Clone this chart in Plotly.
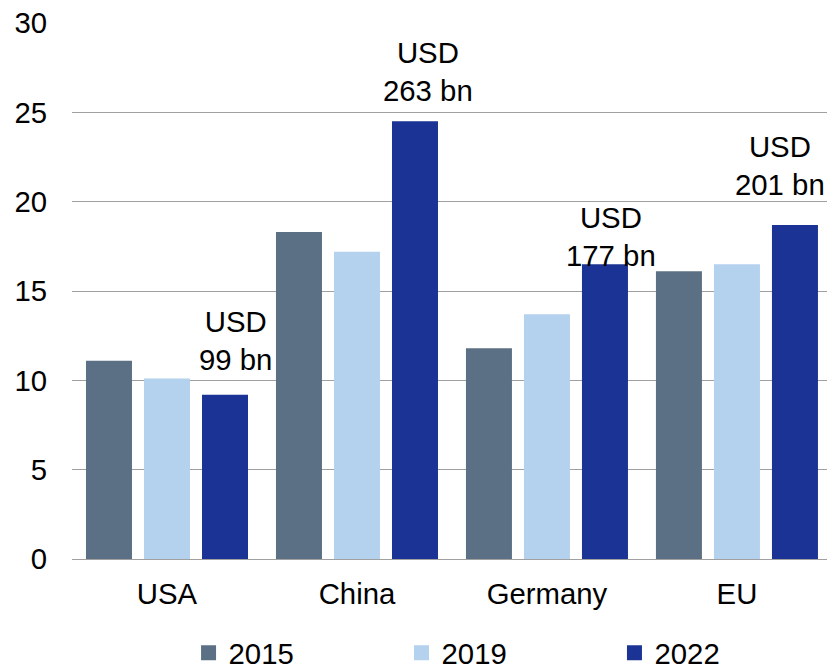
import plotly.graph_objects as go

# Data
categories = ["USA", "China", "Germany", "EU"]
years = ["2015", "2019", "2022"]
values_2015 = [11.1, 18.3, 11.8, 16.1]
values_2019 = [10.1, 17.2, 13.7, 16.5]
values_2022 = [9.2, 24.5, 16.5, 18.7]
usd_labels = ["USD<br>99 bn", "USD<br>263 bn", "USD<br>177 bn", "USD<br>201 bn"]
y_ticks = [0, 5, 10, 15, 20, 25, 30]

colors = {"2015": "#5B7085", "2019": "#B4D1EE", "2022": "#1B3394"}
FONT = "Liberation Sans, Arial, sans-serif"
FS = 29.33

# one legend box per year, laid out along the bottom
legend_ids = ["legend", "legend2", "legend3"]
legend_x = [0.228, 0.4855, 0.743]

fig = go.Figure()
for yr, vals, lid in zip(years, [values_2015, values_2019, values_2022], legend_ids):
    fig.add_trace(go.Bar(
        x=categories, y=vals, name=yr,
        marker=dict(color=colors[yr], line=dict(width=0)),
        showlegend=False,
    ))
    # square legend swatch
    fig.add_trace(go.Scatter(
        x=[None], y=[None], mode="markers", name=yr,
        marker=dict(symbol="square", size=15, color=colors[yr]),
        showlegend=True, legend=lid,
    ))

# text positions relative to the 2022 bar of each group (pixels)
label_dx = [69, 71, 64, 43]
label_dy = [54, 50, 28, 59]
for cat, v, txt, dx, dy in zip(categories, values_2022, usd_labels, label_dx, label_dy):
    fig.add_annotation(
        x=cat, y=v, text=txt, showarrow=False,
        xshift=dx, yshift=dy, yanchor="middle", xanchor="center",
        font=dict(family=FONT, size=FS, color="#000000"),
    )

legend_common = dict(
    orientation="h", xref="container", yref="container", xanchor="left",
    y=0.022, yanchor="middle", font=dict(family=FONT, size=FS),
    bgcolor="rgba(0,0,0,0)", borderwidth=0,
)
layout_legends = {lid: dict(legend_common, x=lx) for lid, lx in zip(legend_ids, legend_x)}

fig.update_layout(
    width=827, height=668,
    margin=dict(l=72, r=0, t=23, b=109, autoexpand=False),
    paper_bgcolor="white", plot_bgcolor="white",
    barmode="group", bargap=0.084, bargroupgap=0.207,
    font=dict(family=FONT, size=FS, color="#000000"),
    **layout_legends,
)
fig.update_xaxes(
    range=[-0.5, 3.474], showgrid=False, zeroline=False, showline=False,
    ticks="", ticklabelstandoff=15, tickfont=dict(family=FONT, size=FS),
    automargin=False,
)
fig.update_yaxes(
    range=[0, 30], tickvals=y_ticks, showgrid=True, gridcolor="#A0A0A0",
    gridwidth=1.3, zeroline=True, zerolinecolor="#A0A0A0", zerolinewidth=1.3,
    showline=False, ticks="", ticklabelstandoff=24,
    tickfont=dict(family=FONT, size=FS), automargin=False,
)

fig.write_html("out.html")
